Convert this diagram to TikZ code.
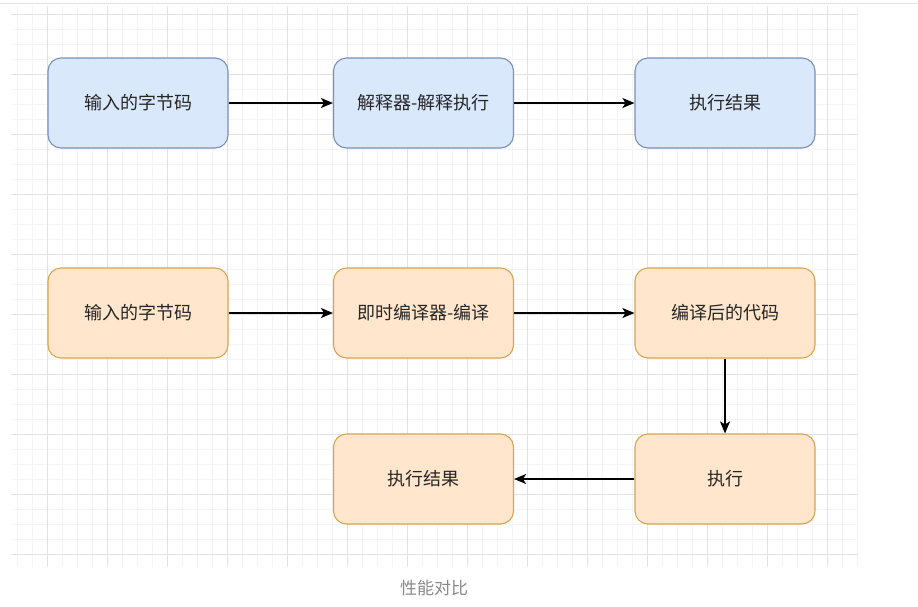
\documentclass[tikz,border=0pt]{standalone}
\usepackage{fontspec}
\setmainfont{Noto Sans CJK SC}
\usetikzlibrary{arrows.meta}
\definecolor{bfill}{HTML}{DAE8FC}
\definecolor{bline}{HTML}{7690BD}
\definecolor{ofill}{HTML}{FFE6CC}
\definecolor{oline}{HTML}{D6A550}
\definecolor{minorg}{HTML}{F4F4F4}
\definecolor{majorg}{HTML}{E2E2E2}
\definecolor{capg}{HTML}{8A8A8A}
\tikzset{
  box/.style={rounded corners=13pt, minimum width=180pt, minimum height=90pt, line width=1.1pt, font=\fontsize{18}{21}\selectfont, text=black!85, inner sep=0pt},
  bluebox/.style={box, draw=bline, fill=bfill},
  orangebox/.style={box, draw=oline, fill=ofill},
  conn/.style={line width=1.4pt, -{Stealth[length=12pt,width=10pt,inset=3pt]}},
  minorline/.style={minorg, line width=0.8pt},
  majorline/.style={majorg, line width=1pt}
}
\begin{document}
\begin{tikzpicture}[x=1pt,y=-1pt]
\useasboundingbox (0,0) rectangle (918,606);
\fill[white] (0,0) rectangle (918,606);
\draw[majorg, line width=0.8pt] (0,3) -- (918,3);
\begin{scope}
\clip (11,6) rectangle (858,567);
\foreach \x in {2,17,...,857} \draw[minorline] (\x,6) -- (\x,567);
\foreach \y in {-1,14,...,569} \draw[minorline] (11,\y) -- (858,\y);
\foreach \x in {47,107,...,827} \draw[majorline] (\x,6) -- (\x,567);
\foreach \y in {14,74,...,554} \draw[majorline] (11,\y) -- (858,\y);
\end{scope}
\node[bluebox] (a1) at (138,103) {输入的字节码};
\node[bluebox] (a2) at (423.5,103) {解释器-解释执行};
\node[bluebox] (a3) at (725,103) {执行结果};
\node[orangebox] (b1) at (138,313) {输入的字节码};
\node[orangebox] (b2) at (423.5,313) {即时编译器-编译};
\node[orangebox] (b3) at (725,313) {编译后的代码};
\node[orangebox] (c2) at (423.5,479) {执行结果};
\node[orangebox] (c3) at (725,479) {执行};
\draw[conn] (a1) -- (a2);
\draw[conn] (a2) -- (a3);
\draw[conn] (b1) -- (b2);
\draw[conn] (b2) -- (b3);
\draw[conn] (b3) -- (c3);
\draw[conn] (c3) -- (c2);
\node[text=capg, font=\fontsize{17}{20}\selectfont] (cap) at (434,588) {性能对比};
\end{tikzpicture}
\end{document}
